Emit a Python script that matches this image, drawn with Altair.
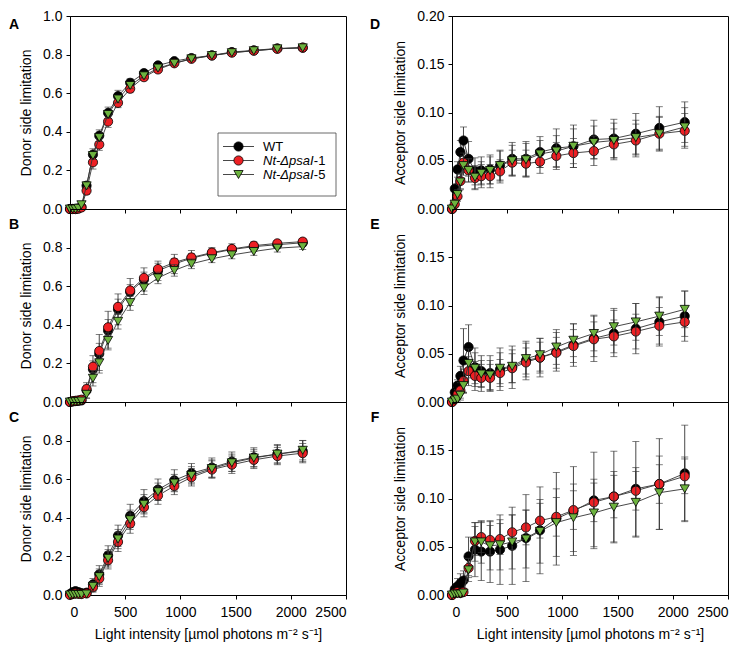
import altair as alt
import pandas as pd

# ---------------- data ----------------
light = [0, 25, 50, 76, 104, 150, 208, 265, 345, 435, 545, 670, 797, 945, 1100, 1285, 1466, 1665, 1878, 2108]

series_names = ["WT", "Nt-ΔpsaI-1", "Nt-ΔpsaI-5"]

# Panel A - donor side limitation
wt_A = [0, 0, 0, 0.003, 0.010, 0.121, 0.282, 0.380, 0.498, 0.585, 0.654, 0.704, 0.744, 0.766, 0.782, 0.796, 0.813, 0.822, 0.832, 0.836]
r1_A = [0, 0, 0, 0.002, 0.008, 0.095, 0.242, 0.334, 0.453, 0.550, 0.623, 0.683, 0.723, 0.755, 0.778, 0.795, 0.810, 0.820, 0.830, 0.836]
r5_A = [0, 0, 0, 0.004, 0.022, 0.120, 0.277, 0.370, 0.490, 0.570, 0.640, 0.690, 0.730, 0.755, 0.778, 0.795, 0.810, 0.820, 0.830, 0.835]
wt_A_err = [0, 0, 0, 0.002, 0.005, 0.020, 0.030, 0.030, 0.030, 0.030, 0.020, 0.015, 0.012, 0.010, 0.010, 0.008, 0.008, 0.008, 0.008, 0.008]
r1_A_err = [0, 0, 0, 0.002, 0.005, 0.020, 0.035, 0.030, 0.030, 0.025, 0.020, 0.015, 0.015, 0.012, 0.010, 0.008, 0.008, 0.008, 0.008, 0.008]
r5_A_err = [0, 0, 0, 0.002, 0.005, 0.015, 0.020, 0.020, 0.020, 0.020, 0.015, 0.012, 0.010, 0.010, 0.008, 0.008, 0.008, 0.008, 0.008, 0.008]

# Panel B
wt_B = [0, 0.003, 0.005, 0.006, 0.008, 0.060, 0.170, 0.250, 0.370, 0.480, 0.570, 0.635, 0.680, 0.715, 0.745, 0.770, 0.790, 0.805, 0.815, 0.825]
r1_B = [0, 0.004, 0.006, 0.008, 0.012, 0.067, 0.183, 0.264, 0.387, 0.493, 0.578, 0.643, 0.689, 0.723, 0.749, 0.774, 0.793, 0.810, 0.822, 0.831]
r5_B = [0, 0.001, 0.002, 0.003, 0.005, 0.040, 0.123, 0.203, 0.319, 0.418, 0.515, 0.592, 0.643, 0.682, 0.716, 0.742, 0.762, 0.780, 0.797, 0.805]
wt_B_err = [0, 0, 0, 0.005, 0.010, 0.040, 0.070, 0.100, 0.100, 0.080, 0.070, 0.060, 0.050, 0.050, 0.040, 0.030, 0.030, 0.025, 0.020, 0.020]
r1_B_err = [0, 0, 0, 0, 0.005, 0.020, 0.030, 0.040, 0.040, 0.040, 0.030, 0.030, 0.030, 0.020, 0.020, 0.020, 0.015, 0.015, 0.015, 0.015]
r5_B_err = [0, 0, 0, 0, 0.005, 0.020, 0.040, 0.040, 0.040, 0.040, 0.040, 0.035, 0.030, 0.030, 0.025, 0.020, 0.020, 0.020, 0.020, 0.015]

# Panel C
wt_C = [0.005, 0.015, 0.020, 0.015, 0.010, 0.012, 0.055, 0.107, 0.205, 0.307, 0.410, 0.486, 0.546, 0.594, 0.631, 0.660, 0.691, 0.713, 0.730, 0.746]
r1_C = [0, 0.005, 0.008, 0.006, 0.005, 0.008, 0.040, 0.085, 0.180, 0.275, 0.370, 0.455, 0.515, 0.565, 0.610, 0.650, 0.675, 0.700, 0.720, 0.735]
r5_C = [0, 0.002, 0.003, 0.003, 0.003, 0.005, 0.045, 0.095, 0.190, 0.290, 0.390, 0.470, 0.535, 0.580, 0.620, 0.655, 0.685, 0.710, 0.730, 0.750]
wt_C_err = [0, 0.005, 0.005, 0.005, 0.005, 0.010, 0.030, 0.045, 0.050, 0.055, 0.060, 0.060, 0.055, 0.055, 0.050, 0.050, 0.050, 0.050, 0.050, 0.055]
r1_C_err = [0, 0.003, 0.004, 0.004, 0.004, 0.008, 0.025, 0.040, 0.045, 0.050, 0.050, 0.050, 0.045, 0.045, 0.045, 0.045, 0.045, 0.045, 0.045, 0.050]
r5_C_err = [0, 0.002, 0.003, 0.003, 0.003, 0.008, 0.025, 0.040, 0.045, 0.050, 0.050, 0.050, 0.045, 0.045, 0.045, 0.045, 0.045, 0.045, 0.045, 0.050]

# Panel D - acceptor side limitation
wt_D = [0, 0.021, 0.041, 0.059, 0.071, 0.052, 0.039, 0.040, 0.041, 0.045, 0.052, 0.052, 0.059, 0.063, 0.065, 0.072, 0.073, 0.078, 0.084, 0.090]
r1_D = [0, 0.005, 0.013, 0.029, 0.048, 0.040, 0.032, 0.034, 0.034, 0.039, 0.048, 0.047, 0.049, 0.055, 0.058, 0.060, 0.067, 0.071, 0.078, 0.081]
r5_D = [0, 0.005, 0.015, 0.028, 0.045, 0.040, 0.033, 0.037, 0.040, 0.045, 0.050, 0.051, 0.057, 0.060, 0.065, 0.069, 0.071, 0.074, 0.078, 0.085]
wt_D_err = [0, 0.005, 0.008, 0.012, 0.014, 0.018, 0.014, 0.014, 0.015, 0.016, 0.017, 0.018, 0.016, 0.020, 0.022, 0.020, 0.020, 0.021, 0.022, 0.021]
r1_D_err = [0, 0.003, 0.005, 0.008, 0.010, 0.012, 0.012, 0.012, 0.012, 0.012, 0.013, 0.014, 0.012, 0.014, 0.015, 0.015, 0.016, 0.017, 0.018, 0.018]
r5_D_err = [0, 0.003, 0.005, 0.008, 0.010, 0.012, 0.012, 0.012, 0.014, 0.015, 0.016, 0.017, 0.014, 0.016, 0.018, 0.017, 0.018, 0.018, 0.017, 0.020]

# Panel E
wt_E = [0, 0.010, 0.017, 0.027, 0.043, 0.057, 0.036, 0.032, 0.030, 0.034, 0.036, 0.043, 0.046, 0.052, 0.059, 0.066, 0.071, 0.076, 0.083, 0.089]
r1_E = [0, 0.003, 0.008, 0.012, 0.022, 0.032, 0.027, 0.025, 0.025, 0.030, 0.035, 0.041, 0.046, 0.051, 0.058, 0.065, 0.068, 0.073, 0.079, 0.083]
r5_E = [0, 0.002, 0.003, 0.007, 0.017, 0.040, 0.035, 0.029, 0.028, 0.035, 0.037, 0.045, 0.049, 0.057, 0.064, 0.071, 0.078, 0.083, 0.089, 0.096]
wt_E_err = [0, 0.004, 0.006, 0.010, 0.033, 0.023, 0.020, 0.016, 0.018, 0.022, 0.022, 0.020, 0.020, 0.020, 0.022, 0.024, 0.024, 0.026, 0.025, 0.026]
r1_E_err = [0, 0.003, 0.005, 0.008, 0.012, 0.015, 0.015, 0.014, 0.014, 0.014, 0.015, 0.015, 0.016, 0.016, 0.017, 0.018, 0.017, 0.018, 0.019, 0.015]
r5_E_err = [0, 0.002, 0.003, 0.005, 0.008, 0.015, 0.016, 0.014, 0.015, 0.016, 0.017, 0.016, 0.017, 0.018, 0.017, 0.018, 0.019, 0.019, 0.020, 0.019]

# Panel F
wt_F = [0, 0.006, 0.009, 0.012, 0.015, 0.040, 0.047, 0.045, 0.045, 0.047, 0.051, 0.059, 0.067, 0.079, 0.087, 0.098, 0.102, 0.110, 0.115, 0.126]
r1_F = [0, 0.002, 0.003, 0.002, 0.003, 0.028, 0.056, 0.060, 0.057, 0.058, 0.065, 0.070, 0.077, 0.081, 0.088, 0.096, 0.102, 0.108, 0.115, 0.123]
r5_F = [0, 0.001, 0.001, 0.001, 0.002, 0.026, 0.055, 0.055, 0.051, 0.052, 0.055, 0.058, 0.066, 0.075, 0.080, 0.085, 0.091, 0.096, 0.106, 0.110]
wt_F_err = [0, 0.006, 0.008, 0.010, 0.010, 0.020, 0.028, 0.030, 0.032, 0.036, 0.040, 0.045, 0.045, 0.048, 0.046, 0.050, 0.047, 0.049, 0.047, 0.050]
r1_F_err = [0, 0.002, 0.003, 0.003, 0.004, 0.010, 0.015, 0.016, 0.015, 0.016, 0.018, 0.018, 0.018, 0.020, 0.020, 0.020, 0.022, 0.020, 0.020, 0.018]
r5_F_err = [0, 0.001, 0.001, 0.002, 0.003, 0.012, 0.020, 0.022, 0.025, 0.026, 0.028, 0.030, 0.033, 0.035, 0.035, 0.035, 0.037, 0.036, 0.038, 0.033]

panel_data = {
    "A": ([wt_A, r1_A, r5_A], [wt_A_err, r1_A_err, r5_A_err]),
    "B": ([wt_B, r1_B, r5_B], [wt_B_err, r1_B_err, r5_B_err]),
    "C": ([wt_C, r1_C, r5_C], [wt_C_err, r1_C_err, r5_C_err]),
    "D": ([wt_D, r1_D, r5_D], [wt_D_err, r1_D_err, r5_D_err]),
    "E": ([wt_E, r1_E, r5_E], [wt_E_err, r1_E_err, r5_E_err]),
    "F": ([wt_F, r1_F, r5_F], [wt_F_err, r1_F_err, r5_F_err]),
}

x_ticks = [0, 500, 1000, 1500, 2000, 2500]

# ---------------- styling ----------------
FONT = "Liberation Sans"
FS = 14
COLORS = ["#000000", "#EE2024", "#6DB33F"]
SHAPES = ["circle", "circle", "triangle-down"]
LINE_COL = "#333333"
W, H = 276, 193

rows = []
for key, (means, errs) in panel_data.items():
    for s, m, e in zip(series_names, means, errs):
        for xv, mv, ev in zip(light, m, e):
            rows.append({"panel": key, "series": s, "light": xv, "value": mv,
                         "lo": mv - ev, "hi": mv + ev})
df = pd.DataFrame(rows)


def make_panel(key, ydom, yvals, yfmt, ytitle, show_x, letter_xy):
    xaxis = alt.Axis(values=x_ticks, labels=show_x, format="d",
                     title="Light intensity [µmol photons m⁻² s⁻¹]" if show_x else None,
                     labelPadding=6, titlePadding=8)
    X = alt.X("light:Q", scale=alt.Scale(domain=[0, 2500], nice=False, zero=False), axis=xaxis)

    def Y(field):
        return alt.Y(f"{field}:Q", scale=alt.Scale(domain=ydom, nice=False, zero=False),
                     axis=alt.Axis(values=yvals, format=yfmt, title=ytitle,
                                   labelPadding=4, titlePadding=9))

    layers = []
    for i, s in enumerate(series_names):
        d = df[(df.panel == key) & (df.series == s)]
        base = alt.Chart(d)
        layers.append(base.mark_rule(color=LINE_COL, strokeWidth=0.9, clip=True)
                      .encode(x=X, y=Y("lo"), y2="hi:Q"))
        layers.append(base.mark_tick(orient="horizontal", size=7, thickness=0.9,
                                     color=LINE_COL, clip=True)
                      .encode(x=X, y=Y("lo")))
        layers.append(base.mark_tick(orient="horizontal", size=7, thickness=0.9,
                                     color=LINE_COL, clip=True)
                      .encode(x=X, y=Y("hi")))
        layers.append(base.mark_line(color=LINE_COL, strokeWidth=0.9)
                      .encode(x=X, y=Y("value")))
        layers.append(base.mark_point(shape=SHAPES[i], filled=True, fill=COLORS[i],
                                      stroke="black", strokeWidth=0.8, size=85,
                                      opacity=1, fillOpacity=1, strokeOpacity=1)
                      .encode(x=X, y=Y("value")))

    # panel letter
    lx, ly = letter_xy
    layers.append(alt.Chart(pd.DataFrame({"t": [key]})).mark_text(
        font=FONT, fontSize=FS, fontWeight="bold", color="black",
        align="center", baseline="middle").encode(
        x=alt.value(lx), y=alt.value(ly), text="t:N"))
    return layers


def legend_layers():
    dummy = pd.DataFrame({"a": [0]})
    L = [alt.Chart(dummy).mark_rect(fill="white", stroke="#444", strokeWidth=0.8).encode(
        x=alt.value(148), x2=alt.value(266), y=alt.value(117), y2=alt.value(180))]
    row_y = [130.5, 144.5, 158.5]
    for i, s in enumerate(series_names):
        yy = row_y[i]
        L.append(alt.Chart(dummy).mark_rule(color=LINE_COL, strokeWidth=0.9).encode(
            x=alt.value(153), x2=alt.value(184), y=alt.value(yy)))
        L.append(alt.Chart(dummy).mark_point(shape=SHAPES[i], filled=True, fill=COLORS[i],
                                             stroke="black", strokeWidth=0.8, size=85,
                                             opacity=1).encode(
            x=alt.value(168.5), y=alt.value(yy)))
        if i == 0:
            L.append(alt.Chart(pd.DataFrame({"t": [s]})).mark_text(
                font=FONT, fontSize=13, align="left", baseline="middle", color="black").encode(
                x=alt.value(193), y=alt.value(yy), text="t:N"))
        else:
            ital, suffix = s[:-2], s[-2:]
            L.append(alt.Chart(pd.DataFrame({"t": [ital]})).mark_text(
                font=FONT, fontSize=13, fontStyle="italic", align="left",
                baseline="middle", color="black").encode(
                x=alt.value(193), y=alt.value(yy), text="t:N"))
            L.append(alt.Chart(pd.DataFrame({"t": [suffix]})).mark_text(
                font=FONT, fontSize=13, align="left", baseline="middle", color="black").encode(
                x=alt.value(193 + 50.8), y=alt.value(yy), text="t:N"))
    return L


left_vals_top = [0, 0.2, 0.4, 0.6, 0.8, 1.0]
left_vals = [0, 0.2, 0.4, 0.6, 0.8]
right_vals_top = [0, 0.05, 0.10, 0.15, 0.20]
right_vals = [0, 0.05, 0.10, 0.15]

pA = alt.layer(*make_panel("A", [0, 1.0], left_vals_top, ".1f", "Donor side limitation", False, (-56, 8.5)),
               *legend_layers()).properties(width=W, height=H)
pB = alt.layer(*make_panel("B", [0, 1.0], left_vals, ".1f", "Donor side limitation", False, (-56, 16))
               ).properties(width=W, height=H)
pC = alt.layer(*make_panel("C", [0, 1.0], left_vals, ".1f", "Donor side limitation", True, (-56, 16))
               ).properties(width=W, height=H)
pD = alt.layer(*make_panel("D", [0, 0.20], right_vals_top, ".2f", "Acceptor side limitation", False, (-77, 8.5))
               ).properties(width=W, height=H)
pE = alt.layer(*make_panel("E", [0, 0.20], right_vals, ".2f", "Acceptor side limitation", False, (-77, 16))
               ).properties(width=W, height=H)
pF = alt.layer(*make_panel("F", [0, 0.20], right_vals, ".2f", "Acceptor side limitation", True, (-77, 16))
               ).properties(width=W, height=H)

chart = alt.concat(pA, pD, pB, pE, pC, pF, columns=2,
                   spacing={"row": 0, "column": 106}, bounds="flush").properties(
    padding={"left": 0, "top": 0, "right": 0, "bottom": 0}
).configure_axis(
    grid=False, domainColor="black", domainWidth=1, tickColor="black", tickSize=4, tickWidth=1,
    labelFont=FONT, labelFontSize=FS, labelColor="black",
    titleFont=FONT, titleFontSize=FS, titleFontWeight="normal", titleColor="black"
).configure_view(stroke="black", strokeWidth=1)

chart.save("out.html", embed_options={"renderer": "svg", "actions": False})
